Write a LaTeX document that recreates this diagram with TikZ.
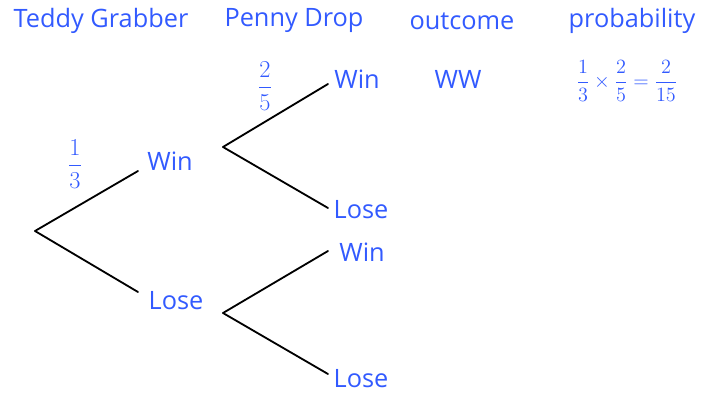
\documentclass[tikz,border=0pt]{standalone}
\usepackage{amsmath}
\usepackage{fontspec}
\setmainfont{Open Sans}
\usepackage{tikz}
\definecolor{penblue}{RGB}{50,90,255}
\tikzset{
  lbl/.style={text=penblue,font=\fontsize{18}{21}\selectfont,inner sep=0pt},
  frac/.style={text=penblue,font=\fontsize{16}{18}\selectfont,inner sep=0pt},
  branch/.style={line width=1.3pt,line cap=round}
}

\begin{document}
\begin{tikzpicture}[x=0.025cm,y=-0.025cm]
			\useasboundingbox (0,0) rectangle (710,394);
			% headings
			\node[lbl] (hTeddy) at (101,21) {Teddy Grabber};
			\node[lbl] (hPenny) at (294,21) {Penny Drop};
			\node[lbl] (hOut) at (462,21) {outcome};
			\node[lbl] (hProb) at (632,21) {probability};
			% first stage
			\coordinate (root) at (35,231);
			\coordinate (w1end) at (138,171);
			\coordinate (l1end) at (138,292);
			\node[lbl] (w1) at (170,161) {Win};
			\node[lbl] (l1) at (176,301) {Lose};
			\draw[branch] (root) -- (w1end);
			\draw[branch] (root) -- (l1end);
			\node[frac] (p1) at (75,164) {$\dfrac{1}{3}$};
			% second stage after win
			\coordinate (fw) at (223,147);
			\coordinate (wwend) at (328,84);
			\coordinate (wlend) at (328,208);
			\node[lbl] (ww) at (357,79) {Win};
			\node[lbl] (wl) at (361,210) {Lose};
			\draw[branch] (fw) -- (wwend);
			\draw[branch] (fw) -- (wlend);
			\node[frac] (p2) at (265,86) {$\dfrac{2}{5}$};
			% second stage after lose
			\coordinate (fl) at (223,313);
			\coordinate (lwend) at (328,251);
			\coordinate (llend) at (328,374);
			\node[lbl] (lw) at (362,252) {Win};
			\node[lbl] (ll) at (361,379) {Lose};
			\draw[branch] (fl) -- (lwend);
			\draw[branch] (fl) -- (llend);
			% outcome and probability
			\node[lbl] (oWW) at (458,79) {WW};
			\node[frac,font=\fontsize{14.5}{17}\selectfont] (pWW) at (627,81) {$\dfrac{1}{3}\times\dfrac{2}{5}=\dfrac{2}{15}$};
		\end{tikzpicture}
\end{document}
